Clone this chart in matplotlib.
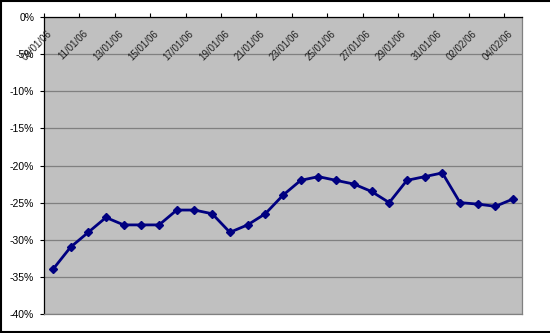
import numpy as np
import matplotlib
matplotlib.use("Agg")
import matplotlib.pyplot as plt
from matplotlib.lines import Line2D
from matplotlib.ticker import FuncFormatter

# daily values 09/01/06 .. 04/02/06 (in %)
values = [-34, -31, -29, -27, -28, -28, -28, -26, -26, -26.5, -29, -28, -26.5,
          -24, -22, -21.5, -22, -22.5, -23.5, -25, -22, -21.5, -21, -25,
          -25.2, -25.5, -24.5]
date_labels = ["09/01/06", "11/01/06", "13/01/06", "15/01/06", "17/01/06",
               "19/01/06", "21/01/06", "23/01/06", "25/01/06", "27/01/06",
               "29/01/06", "31/01/06", "02/02/06", "04/02/06"]
y_ticks = [0, -5, -10, -15, -20, -25, -30, -35, -40]

plt.rcParams['font.family'] = ['Liberation Sans', 'DejaVu Sans']

fig = plt.figure(figsize=(5.5, 3.33), dpi=100)
ax = fig.add_axes([44 / 550, 19 / 333, 478 / 550, 297 / 333])
ax.set_facecolor('#C0C0C0')

x = np.arange(len(values))
ax.plot(x, values, color='#000080', lw=2, marker='D', ms=4.5, zorder=3)

ax.set_xlim(-0.5, len(values) - 0.5)
ax.set_ylim(-40, 0)
ax.set_yticks(y_ticks)
ax.yaxis.set_major_formatter(FuncFormatter(lambda v, p: f"{v:.0f}%"))
ax.tick_params(axis='y', direction='out', length=3, width=0.8, labelsize=7.5, pad=4)
ax.grid(axis='y', color='#808080', lw=0.9)
ax.set_axisbelow(True)

# category axis sits at the top (0%), tick marks between every second category
ax.set_xticks(np.arange(-0.5, len(values), 2))
ax.set_xticklabels([])
ax.tick_params(axis='x', top=True, bottom=False, direction='out', length=3, width=0.8)
for i, lab in enumerate(date_labels):
    ax.annotate(lab, (2 * i, 0), xytext=(1, -8), textcoords='offset points',
                ha='right', va='top', rotation=45, fontsize=7, color='#202020')

ax.spines['left'].set_color('black')
ax.spines['top'].set_color('black')
ax.spines['right'].set_color('#808080')
ax.spines['bottom'].set_color('#808080')
for s in ax.spines.values():
    s.set_linewidth(0.9)

# black frame on top, left and bottom of the picture
for xs, ys in [([0, 1], [0.998, 0.998]), ([0.001, 0.001], [0, 1]), ([0, 1], [0.004, 0.004])]:
    fig.add_artist(Line2D(xs, ys, color='black', lw=1.5, transform=fig.transFigure))

fig.savefig("out.png", dpi=100)
